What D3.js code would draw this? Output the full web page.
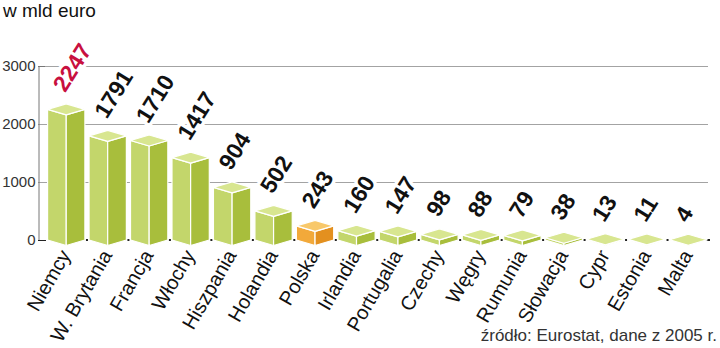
<!DOCTYPE html>
<html><head><meta charset="utf-8">
<script src="https://cdn.jsdelivr.net/npm/d3@7/dist/d3.min.js"></script>
<style>
html,body{margin:0;padding:0;background:#fff;}
svg{display:block;}
text{font-family:"Liberation Sans",Arial,sans-serif;}
</style></head>
<body>
<svg id="c" width="720" height="348"></svg>
<script>
const categories = ["Niemcy","W. Brytania","Francja","Włochy","Hiszpania","Holandia","Polska","Irlandia","Portugalia","Czechy","Węgry","Rumunia","Słowacja","Cypr","Estonia","Malta"];
const values = [2247,1791,1710,1417,904,502,243,160,147,98,88,79,38,13,11,4];
const yTicks = [0,1000,2000,3000];
const highlightBar = "Polska";
const highlightLabel = "Niemcy";
const title = "w mld euro";
const source = "źródło: Eurostat, dane z 2005 r.";

const svg = d3.select("#c");
const x = d3.scaleBand().domain(categories).range([45.5,709]).paddingInner(0.1).paddingOuter(0.05);
const y = d3.scaleLinear().domain([0,3000]).range([240,65.5]);
const D = 5.5;

// title
svg.append("text").attr("x",3).attr("y",17).attr("font-size",19).attr("fill","#111").text(title);

// gridlines
svg.append("g").selectAll("line").data(yTicks.filter(d=>d>0)).join("line")
  .attr("x1",38).attr("x2",708).attr("y1",d=>Math.round(y(d))+0.5).attr("y2",d=>Math.round(y(d))+0.5)
  .attr("stroke","#a3a3a3").attr("stroke-width",1);

// y axis
const yAxis = d3.axisLeft(y).tickValues(yTicks).tickSize(0).tickPadding(3).tickFormat(d3.format("d"));
const ga = svg.append("g").attr("transform","translate(38.5,0)").call(yAxis);
ga.select(".domain").attr("stroke","#777");
ga.selectAll("text").attr("font-size",15).attr("fill","#333").attr("font-family","Liberation Sans, Arial, sans-serif").attr("dy","0.33em");
svg.append("line").attr("x1",38).attr("x2",46).attr("y1",240.5).attr("y2",240.5).attr("stroke","#222");
svg.append("line").attr("x1",38).attr("x2",45).attr("y1",Math.round(y(3000))+0.5).attr("y2",Math.round(y(3000))+0.5).attr("stroke","#777");

// baseline dots between bars
const step = x.step();
svg.append("g").selectAll("rect").data(categories.slice(0,-1)).join("rect")
  .attr("x",d=>x(d)+x.bandwidth()+ (step-x.bandwidth())/2 - 1).attr("y",239).attr("width",2).attr("height",2).attr("fill","#222");
svg.append("rect").attr("x",705).attr("y",239).attr("width",5).attr("height",2).attr("fill","#222");

// bars
const data = categories.map((c,i)=>({c,v:values[i]}));
const bars = svg.append("g").selectAll("g").data(data).join("g");
function pts(a){return a.map(p=>p.join(",")).join(" ");}
bars.each(function(d){
  const g = d3.select(this);
  const hw = x.bandwidth()/2, cx = x(d.c)+hw, yv = y(d.v), y0 = y(0);
  const orange = d.c===highlightBar;
  const cl = orange?"#f2a93a":"#c3d66b", cr = orange?"#e3901f":"#a8be3c", ct = orange?"#f8c86a":"#d8e690";
  g.append("polygon").attr("points",pts([[cx-hw,yv],[cx,yv+D],[cx,y0+D],[cx-hw,y0]])).attr("fill",cl).attr("stroke","#fff").attr("stroke-width",1.2).attr("stroke-linejoin","round");
  g.append("polygon").attr("points",pts([[cx,yv+D],[cx+hw,yv],[cx+hw,y0],[cx,y0+D]])).attr("fill",cr).attr("stroke","#fff").attr("stroke-width",1.2).attr("stroke-linejoin","round");
  g.append("polygon").attr("points",pts([[cx-hw,yv],[cx,yv-D],[cx+hw,yv],[cx,yv+D]])).attr("fill",ct).attr("stroke","#fff").attr("stroke-width",1.2).attr("stroke-linejoin","round");
});

// value labels
svg.append("g").selectAll("text").data(data).join("text")
  .attr("transform",d=>`translate(${x(d.c)+x.bandwidth()/2-1},${y(d.v)-16}) rotate(-58)`)
  .attr("font-family","DejaVu Sans, sans-serif").attr("font-weight","bold").attr("font-size",23)
  .attr("fill",d=>d.c===highlightLabel?"#c8103f":"#111")
  .attr("stroke","#fff").attr("stroke-width",7).attr("paint-order","stroke").attr("stroke-linejoin","round")
  .text(d=>d.v);

// category labels
svg.append("g").selectAll("text").data(categories).join("text")
  .attr("transform",d=>`translate(${x(d)+x.bandwidth()/2+5},255) rotate(-60)`)
  .attr("text-anchor","end").attr("font-size",20).attr("fill","#111")
  .text(d=>d);

// source
svg.append("text").attr("x",717).attr("y",341).attr("text-anchor","end").attr("font-size",17).attr("fill","#333").text(source);
</script>
</body></html>
